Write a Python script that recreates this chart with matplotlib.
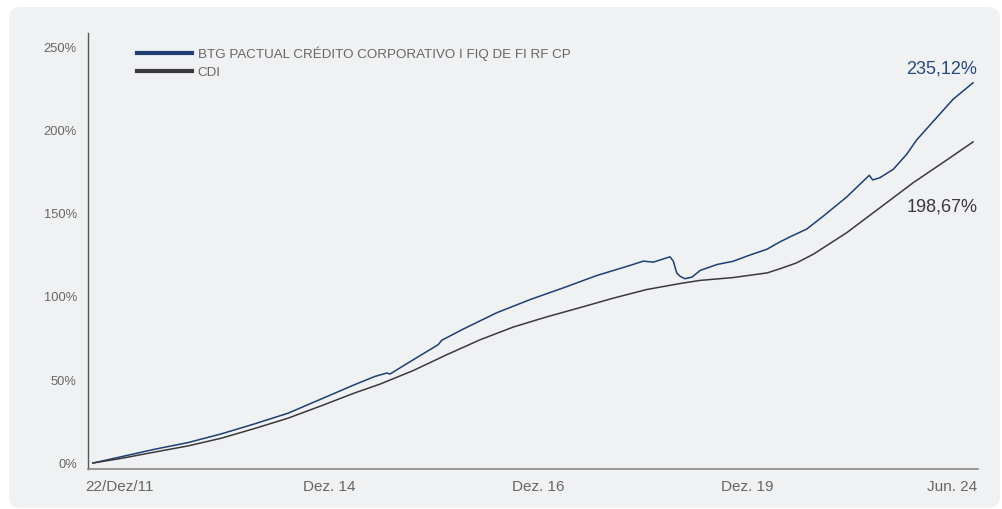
import matplotlib
matplotlib.use("Agg")
import matplotlib.pyplot as plt
from matplotlib.patches import FancyBboxPatch
from matplotlib.transforms import IdentityTransform

plt.rcParams["font.family"] = ["Liberation Sans", "DejaVu Sans"]

# meses desde 22/Dez/11 (0 = inicio, 150 = Jun. 24)
meses_btg = [0, 4.82, 10.52, 16.19, 21.82, 27.56, 33.24, 38.86, 44.6, 48.01, 50.06,
             50.62, 54.59, 58.85, 59.43, 63.12, 68.81, 74.48, 80.16, 85.85, 91.53,
             93.8, 95.5, 98.35, 98.91, 99.49, 100.05, 100.9, 102.1, 103.5, 106.4,
             109.1, 112.0, 114.9, 117.1, 118.8, 121.65, 124.48, 128.46, 132.32,
             132.9, 134.15, 136.41, 138.7, 140.4, 143.81, 146.64, 150]
btg = [0, 3.8, 8.3, 12.3, 17.5, 23.6, 30, 38.5, 47.2, 52.1, 54.2,
       53.6, 62.2, 71.3, 73.9, 80.7, 90.5, 98.4, 105.5, 112.9, 119,
       121.6, 121, 124.2, 121.6, 114.6, 112.5, 111, 112, 116, 119.6,
       121.5, 125.3, 128.8, 133.2, 136.2, 140.9, 148.7, 160.2, 173.3,
       170.5, 171.9, 176.9, 186, 194.6, 208.1, 219.2, 229]

meses_cdi = [0, 4.82, 10.52, 16.19, 21.82, 27.56, 33.24, 38.86, 44.6, 48.9, 54.59,
             60.28, 65.96, 71.64, 77.33, 83.01, 88.69, 94.38, 100.05, 103.5, 109.1,
             114.9, 117.1, 119.9, 122.8, 128.46, 134.15, 139.83, 145.52, 150]
cdi = [0, 2.8, 6.6, 10.3, 14.9, 20.8, 27, 34.4, 42.2, 47.5, 55.7,
       65.2, 74.2, 81.9, 88, 93.6, 99.3, 104.5, 108.1, 110, 111.7,
       114.5, 117, 120.5, 125.8, 138.7, 153.8, 168.9, 182.5, 193.4]

rotulos_x = ["22/Dez/11", "Dez. 14", "Dez. 16", "Dez. 19", "Jun. 24"]
pos_x = [4.5, 40.2, 75.9, 111.6, 146.4]
ticks_y = [0, 50, 100, 150, 200, 250]

nome_fundo = "BTG PACTUAL CRÉDITO CORPORATIVO I FIQ DE FI RF CP"
final_btg = "235,12%"
final_cdi = "198,67%"

azul = "#1d3f72"
cinza = "#3a3a3d"
texto = "#666666"

fig = plt.figure(figsize=(10.02, 5.09), dpi=100, facecolor="white")
painel = FancyBboxPatch((9, 1), 991, 501, boxstyle="round,pad=0,rounding_size=12",
                        transform=IdentityTransform(), facecolor="#f0f1f3",
                        edgecolor="none", zorder=-10)
fig.patches.append(painel)

ax = fig.add_axes([88 / 1002, 40 / 509, 890 / 1002, 436 / 509])
ax.set_facecolor("none")
ax.set_zorder(5)

ax.plot(meses_btg, btg, color=azul, lw=1.1, label=nome_fundo)
ax.plot(meses_cdi, cdi, color=cinza, lw=1.1, label="CDI")

ax.set_xlim(-0.85, 150.85)
ax.set_ylim(-3.6, 259)

ax.set_yticks(ticks_y)
ax.set_yticklabels([f"{v}%" for v in ticks_y])
ax.set_xticks(pos_x)
ax.set_xticklabels(rotulos_x)
ax.tick_params(axis="y", length=0, pad=8, labelsize=9.3, labelcolor=texto)
ax.tick_params(axis="x", length=0, pad=8, labelsize=11, labelcolor=texto)

for s in ["top", "right"]:
    ax.spines[s].set_visible(False)
ax.spines["left"].set_color("#555555")
ax.spines["bottom"].set_color("#888888")
ax.spines["left"].set_linewidth(1)
ax.spines["bottom"].set_linewidth(1.2)

leg = ax.legend(loc="upper left", bbox_to_anchor=(0.055, 0.97), frameon=False,
                fontsize=9.6, handlelength=4.1, handletextpad=0.45,
                labelspacing=0.42, borderpad=0, borderaxespad=0)
for t in leg.get_texts():
    t.set_color(texto)
for h in leg.get_lines():
    h.set_linewidth(3)

ax.annotate(final_btg, xy=(meses_btg[-1], btg[-1]), xytext=(3, 10),
            textcoords="offset points", ha="right", va="center",
            fontsize=13, color="#274a7c")
ax.annotate(final_cdi, xy=(meses_cdi[-1], cdi[-1]), xytext=(3, -47),
            textcoords="offset points", ha="right", va="center",
            fontsize=13, color=cinza)

fig.savefig("out.png", dpi=100, facecolor="white")
